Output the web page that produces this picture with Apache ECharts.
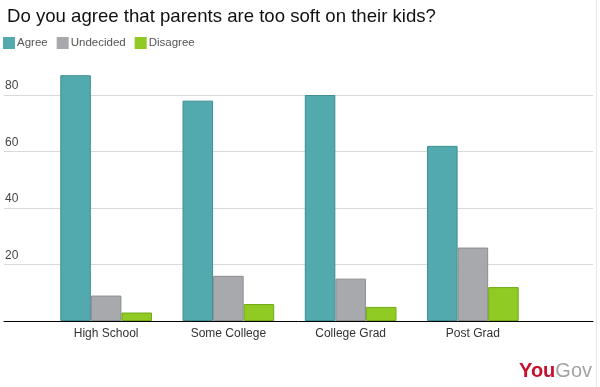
<!DOCTYPE html>
<html>
<head>
<meta charset="utf-8">
<script src="https://cdn.jsdelivr.net/npm/echarts@6/dist/echarts.min.js"></script>
<style>html,body{margin:0;padding:0;background:#fff;}#c{width:600px;height:387px;}</style>
</head>
<body>
<div id="c"></div>
<script>
var categories = ['High School', 'Some College', 'College Grad', 'Post Grad'];
var agree = [87, 78, 80, 62];
var undecided = [9, 16, 15, 26];
var disagree = [3, 6, 5, 12];
var yTicks = [0, 20, 40, 60, 80];

var chart = echarts.init(document.getElementById('c'));
var font = 'Liberation Sans, Arial, sans-serif';
chart.setOption({
  animation: false,
  title: {
    text: 'Do you agree that parents are too soft on their kids?',
    left: 2, top: 2,
    textStyle: { fontFamily: font, fontSize: 18.6, fontWeight: 'normal', color: '#111' }
  },
  legend: {
    left: 3, top: 37, padding: 0,
    itemWidth: 12, itemHeight: 12, itemGap: 9,
    icon: 'rect',
    itemStyle: { borderWidth: 0 },
    textStyle: { fontFamily: font, fontSize: 11.5, color: '#555', padding: [0, 0, 0, -3] },
    data: ['Agree', 'Undecided', 'Disagree']
  },
  grid: [
    { left: 4, right: 7, top: 95, bottom: 66 },
    { left: 45, right: 66, top: 66.75, bottom: 66 }
  ],
  xAxis: [
    { type: 'category', gridIndex: 0, data: [''], axisLine: { lineStyle: { color: '#000', width: 1 } },
      axisTick: { show: false }, axisLabel: { show: false } },
    { type: 'category', gridIndex: 1, data: categories, axisLine: { show: false },
      axisTick: { show: false },
      axisLabel: { fontFamily: font, fontSize: 12, color: '#333', margin: 7 } }
  ],
  yAxis: [
    { type: 'value', gridIndex: 0, min: 0, max: 80, interval: 20,
      axisLine: { show: false }, axisTick: { show: false },
      splitLine: { lineStyle: { color: '#d9d9d9' } },
      axisLabel: { inside: true, margin: 1, verticalAlign: 'bottom', padding: [0, 0, 3, 0],
        fontFamily: font, fontSize: 12, color: '#444',
        formatter: function (v) { return v === 0 ? '' : (yTicks.indexOf(v) >= 0 ? String(v) : ''); } } },
    { type: 'value', gridIndex: 1, min: 0, max: 90, show: false }
  ],
  series: [
    { name: 'Agree', type: 'bar', xAxisIndex: 1, yAxisIndex: 1, data: agree,
      barGap: '0%', barCategoryGap: '25%',
      itemStyle: { color: '#52aaae', borderColor: '#3d8f93', borderWidth: 1 } },
    { name: 'Undecided', type: 'bar', xAxisIndex: 1, yAxisIndex: 1, data: undecided,
      barGap: '0%', barCategoryGap: '25%',
      itemStyle: { color: '#a7a9ac', borderColor: '#8a8c8f', borderWidth: 1 } },
    { name: 'Disagree', type: 'bar', xAxisIndex: 1, yAxisIndex: 1, data: disagree,
      barGap: '0%', barCategoryGap: '25%',
      itemStyle: { color: '#8fcb22', borderColor: '#72a818', borderWidth: 1 } }
  ],
  graphic: [
    { type: 'text', right: 8, bottom: 6,
      style: { rich: {
        a: { fontFamily: font, fontSize: 20, fontWeight: 'bold', fill: '#c8102e' },
        b: { fontFamily: font, fontSize: 20, fill: '#a3a3a3' }
      }, text: '{a|You}{b|Gov}' } },
    { type: 'rect', shape: { x: 596, y: 0, width: 1, height: 387 }, style: { fill: '#e6e6e6' } }
  ]
});
</script>
</body>
</html>
